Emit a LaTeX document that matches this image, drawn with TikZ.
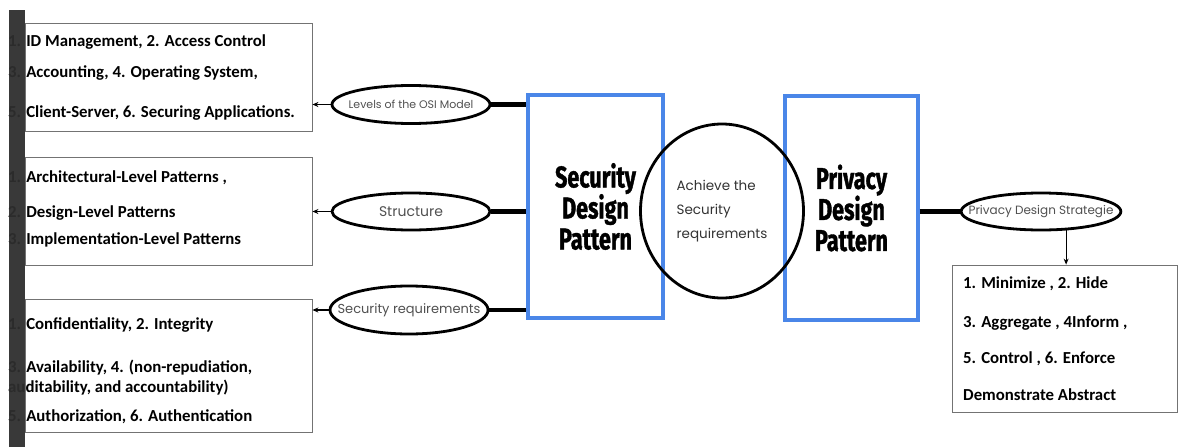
\documentclass[tikz,border=0pt]{standalone}
\usepackage{fontspec}
\setmainfont{Carlito}
\newfontfamily\ovalfont{Poppins}
\newfontfamily\titlefont[FakeStretch=0.72, BoldFeatures={FakeBold=1.2}]{Fira Sans}
\usetikzlibrary{shapes.geometric, arrows.meta}
\definecolor{patblue}{HTML}{4A86E8}
\definecolor{bargray}{HTML}{2E2E2E}
\definecolor{ovaltext}{HTML}{505050}

\begin{document}
\begin{tikzpicture}
        [x=1pt, y=-1pt,
        listbox/.style={draw=black!55, line width=0.8pt, minimum width=287pt},
        listtext/.style={anchor=west, align=left, inner sep=0pt,
          font=\bfseries\fontsize{16.8}{19}\selectfont},
        patbox/.style={draw=patblue, line width=3.4pt, align=center,
          font=\titlefont\bfseries\fontsize{30}{31}\selectfont},
        oval/.style={ellipse, draw, line width=2.8pt, inner xsep=-16pt, inner ysep=0pt,
          minimum width=158pt, text=ovaltext},
        link/.style={line width=4.5pt},
        pointer/.style={line width=1.2pt, -{Stealth[length=6pt,width=5pt]}}]

    \useasboundingbox (0,0) rectangle (1178,447);

    % left column
    \node[listbox, minimum height=108pt] (b1) at (168.5,77) {};
    \node[listtext] (t1) at (8,77.5)
      {1. ID Management, 2. Access Control\\[12pt]
       3. Accounting, 4. Operating System,\\[21pt]
       5. Client-Server, 6. Securing Applications.};

    \node[listbox, minimum height=108pt] (b2) at (168.5,211) {};
    \node[listtext] (t2) at (8,209)
      {1. Architectural-Level Patterns ,\\[16pt]
       2. Design-Level Patterns\\[8pt]
       3. Implementation-Level Patterns};

    \node[listbox, minimum height=133pt] (b3) at (168.5,365.5) {};
    \node[listtext] (t3) at (8,371)
      {1. Confidentiality, 2. Integrity\\[24pt]
       3. Availability, 4. (non-repudiation,\\[1pt]
       auditability, and accountability)\\[10pt]
       5. Authorization, 6. Authentication};

    \fill[bargray, opacity=0.95] (9,10) rectangle (25,447);

    % ovals
    \node[oval, minimum height=38pt, font=\ovalfont\fontsize{11}{12}\selectfont]
      (e1) at (411,104.5) {Levels of the OSI Model};
    \node[oval, minimum height=37pt, font=\ovalfont\fontsize{14}{15}\selectfont]
      (e2) at (411,211.5) {Structure};
    \node[oval, minimum height=48pt, font=\ovalfont\fontsize{13}{14}\selectfont]
      (e3) at (409,310) {Security requirements};

    % patterns
    \node[patbox, minimum width=135pt, minimum height=223pt] (sec) at (595.5,206.5)
      {Security\\Design\\Pattern};
    \node[patbox, minimum width=133pt, minimum height=224pt] (priv) at (851.5,208)
      {Privacy\\Design\\Pattern};
    \node[ellipse, draw, line width=2.8pt, minimum width=163pt, minimum height=174pt,
      align=left, text=black!80, font=\ovalfont\fontsize{13.5}{24}\selectfont]
      (goal) at (722,211) {Achieve the\\Security\\requirements};

    \node[oval, minimum height=37pt, font=\ovalfont\fontsize{12}{13}\selectfont]
      (e4) at (1041,211.5) {Privacy Design Strategie};

    \node[draw=black!55, line width=0.8pt, minimum width=225pt, minimum height=147pt]
      (b4) at (1064.5,338.5) {};
    \node[listtext] (t4) at (963,339)
      {1. Minimize , 2. Hide\\[20pt]
       3. Aggregate , 4Inform ,\\[17pt]
       5. Control , 6. Enforce\\[18pt]
       Demonstrate Abstract};

    \draw[link] (e1.east) -- (sec.west |- e1.east);
    \draw[link] (e2.east) -- (sec.west |- e2.east);
    \draw[link] (e3.east) -- (sec.west |- e3.east);
    \draw[link] (priv.east |- e4.west) -- (e4.west);

    \draw[pointer] (e1.west) -- (b1.east |- e1.west);
    \draw[pointer] (e2.west) -- (b2.east |- e2.west);
    \draw[pointer] (e3.west) -- (b3.east |- e3.west);
    \draw[pointer] (e4.-37) -- (e4.-37 |- b4.north);
\end{tikzpicture}
\end{document}
